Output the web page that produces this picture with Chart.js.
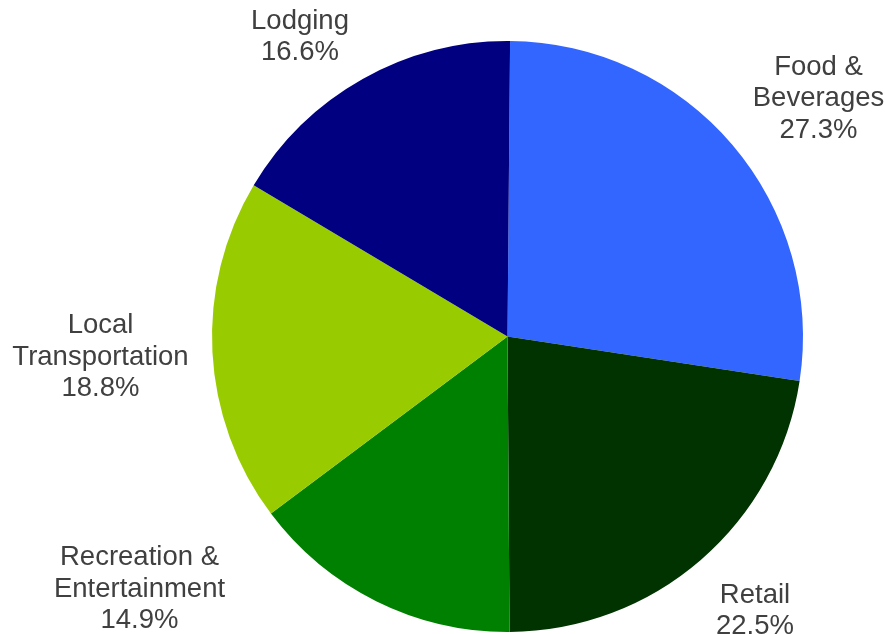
<!DOCTYPE html>
<html>
<head>
<meta charset="utf-8">
<script src="https://cdn.jsdelivr.net/npm/chart.js@4.4.1/dist/chart.umd.min.js"></script>
<style>
  html, body { margin: 0; padding: 0; background: #fff; }
  #wrap { width: 885px; height: 634px; }
</style>
</head>
<body>
<div id="wrap"><canvas id="spendChart"></canvas></div>
<script>
// spending categories, split into the lines they are printed on
const categories = [
    ['Food &', 'Beverages'],
    ['Retail'],
    ['Recreation &', 'Entertainment'],
    ['Local', 'Transportation'],
    ['Lodging']
];
const shares = [27.3, 22.5, 14.9, 18.8, 16.6];
const sliceColors = ['#3366FF', '#003300', '#008000', '#99CC00', '#000080'];

// where each label's first baseline sits, relative to the pie centre
const labelOffsets = [
    { dx: 311, dy: -262 },
    { dx: 247.5, dy: 266 },
    { dx: -368, dy: 228.5 },
    { dx: -407, dy: -3.5 },
    { dx: -207.5, dy: -308 }
];

const outsideLabels = {
    id: 'outsideLabels',
    afterDatasetsDraw(chart) {
        const ctx = chart.ctx;
        const meta = chart.getDatasetMeta(0);
        const lineHeight = 31.5;
        ctx.save();
        ctx.font = '27.5px "Liberation Sans", Arial, sans-serif';
        ctx.fillStyle = '#404040';
        ctx.textAlign = 'center';
        ctx.textBaseline = 'alphabetic';
        meta.data.forEach((arc, i) => {
            const lines = chart.data.labels[i].concat([shares[i].toFixed(1) + '%']);
            const x = arc.x + labelOffsets[i].dx;
            let y = arc.y + labelOffsets[i].dy;
            lines.forEach(line => {
                ctx.fillText(line, x, y);
                y += lineHeight;
            });
        });
        ctx.restore();
    }
};

new Chart(document.getElementById('spendChart').getContext('2d'), {
    type: 'pie',
    data: {
        labels: categories,
        datasets: [{
            data: shares,
            backgroundColor: sliceColors,
            borderWidth: 0
        }]
    },
    options: {
        responsive: true,
        maintainAspectRatio: false,
        animation: false,
        rotation: 0.5,
        layout: { padding: { left: 130, right: 0, top: 41, bottom: 2 } },
        plugins: {
            legend: { display: false },
            tooltip: { enabled: false }
        }
    },
    plugins: [outsideLabels]
});
</script>
</body>
</html>
